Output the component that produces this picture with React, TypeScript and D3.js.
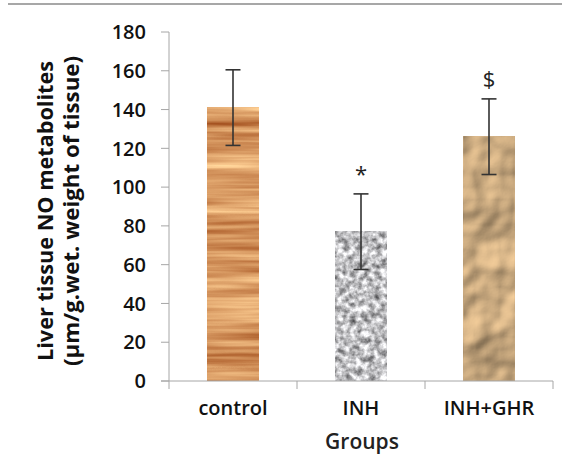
import { useEffect, useRef } from 'react';
import * as d3 from 'd3';

// values
const groups = ['control', 'INH', 'INH+GHR'];
const means = [141, 77, 126];
const errors = [19.5, 19.5, 19.5];
const marks = ['', '*', '$'];
const yTicks = [0, 20, 40, 60, 80, 100, 120, 140, 160, 180];
const textures = ['wood', 'granite', 'paper'];

const W = 562;
const H = 466;

export default function App() {
  const svgRef = useRef<SVGSVGElement | null>(null);

  useEffect(() => {
    if (!svgRef.current) return;
    const svg = d3.select(svgRef.current);
    svg.selectAll('*').remove();

    const font = '"Open Sans", "Noto Sans", sans-serif';
    const axisColor = '#a6a6a6';

    const x = d3.scaleBand().domain(groups).range([169, 553]).paddingInner(0).paddingOuter(0);
    const y = d3.scaleLinear().domain([0, 180]).range([381, 32]);
    const barW = x.bandwidth() * 0.4;

    // textures
    const defs = svg.append('defs');
    const mkFilter = (id: string) =>
      defs.append('filter').attr('id', id)
        .attr('filterUnits', 'objectBoundingBox')
        .attr('color-interpolation-filters', 'sRGB')
        .attr('x', 0).attr('y', 0).attr('width', 1).attr('height', 1);

    const wood = mkFilter('wood');
    wood.append('feTurbulence').attr('type', 'fractalNoise')
      .attr('baseFrequency', '0.006 0.14').attr('numOctaves', 3).attr('seed', 4);
    wood.append('feColorMatrix').attr('type', 'matrix')
      .attr('values', '0.5 0 0 0 0.58  0.7 0 0 0 0.23  0.65 0 0 0 0.04  0 0 0 0 1');

    const granite = mkFilter('granite');
    granite.append('feTurbulence').attr('type', 'fractalNoise')
      .attr('baseFrequency', '0.16').attr('numOctaves', 3).attr('seed', 7);
    granite.append('feColorMatrix').attr('type', 'matrix')
      .attr('values', '1.1 0 0 0 0.2  1.1 0 0 0 0.2  1.1 0 0 0 0.21  0 0 0 0 1');

    const paper = mkFilter('paper');
    paper.append('feTurbulence').attr('type', 'fractalNoise')
      .attr('baseFrequency', '0.02').attr('numOctaves', 3).attr('seed', 11).attr('result', 'n');
    const light = paper.append('feDiffuseLighting').attr('in', 'n')
      .attr('surfaceScale', 6).attr('diffuseConstant', 1.12)
      .attr('lighting-color', '#eac594').attr('result', 'lit');
    light.append('feDistantLight').attr('azimuth', 225).attr('elevation', 50);

    // top rule
    svg.append('line')
      .attr('x1', 8).attr('x2', W).attr('y1', 4).attr('y2', 4)
      .attr('stroke', '#8a8a8a').attr('stroke-width', 1.5);

    // y axis
    const yAxis = svg.append('g');
    yAxis.append('line')
      .attr('x1', 169).attr('x2', 169).attr('y1', y(180)).attr('y2', y(0))
      .attr('stroke', axisColor);
    yAxis.selectAll('.tick').data(yTicks).join('line')
      .attr('x1', 161).attr('x2', 169)
      .attr('y1', (d) => y(d)).attr('y2', (d) => y(d))
      .attr('stroke', axisColor);
    yAxis.selectAll('.lbl').data(yTicks).join('text')
      .attr('x', 146).attr('y', (d) => y(d))
      .attr('dy', '0.36em')
      .attr('text-anchor', 'end')
      .style('font-family', font).style('font-size', '20px').style('font-weight', 600)
      .attr('fill', '#111')
      .text((d) => d);

    // bars
    svg.selectAll('.bar').data(groups).join('rect')
      .attr('x', (d) => (x(d) as number) + x.bandwidth() / 2 - barW / 2)
      .attr('width', barW)
      .attr('y', (_, i) => y(means[i]))
      .attr('height', (_, i) => y(0) - y(means[i]))
      .attr('filter', (_, i) => `url(#${textures[i]})`);

    // x axis
    const xAxis = svg.append('g');
    xAxis.append('line')
      .attr('x1', 161).attr('x2', 553).attr('y1', y(0)).attr('y2', y(0))
      .attr('stroke', axisColor);
    const edges = [...groups.map((g) => x(g) as number), 553];
    xAxis.selectAll('.tick').data(edges).join('line')
      .attr('x1', (d) => d).attr('x2', (d) => d)
      .attr('y1', y(0)).attr('y2', y(0) + 8)
      .attr('stroke', axisColor);
    xAxis.selectAll('.lbl').data(groups).join('text')
      .attr('x', (d) => (x(d) as number) + x.bandwidth() / 2)
      .attr('y', 415)
      .attr('text-anchor', 'middle')
      .style('font-family', font).style('font-size', '20px').style('font-weight', 600)
      .attr('fill', '#111')
      .text((d) => d);

    // error bars
    const eb = svg.append('g').attr('stroke', '#333').attr('stroke-width', 1.6);
    groups.forEach((g, i) => {
      const cx = (x(g) as number) + x.bandwidth() / 2;
      const hi = y(means[i] + errors[i]);
      const lo = y(means[i] - errors[i]);
      eb.append('line').attr('x1', cx).attr('x2', cx).attr('y1', hi).attr('y2', lo);
      eb.append('line').attr('x1', cx - 7.5).attr('x2', cx + 7.5).attr('y1', hi).attr('y2', hi);
      eb.append('line').attr('x1', cx - 7.5).attr('x2', cx + 7.5).attr('y1', lo).attr('y2', lo);
    });

    // significance marks
    svg.selectAll('.mark').data(groups).join('text')
      .attr('x', (d) => (x(d) as number) + x.bandwidth() / 2)
      .attr('y', (_, i) => y(means[i] + errors[i]) - 12)
      .attr('text-anchor', 'middle')
      .style('font-family', font).style('font-size', '22px')
      .attr('fill', '#222')
      .text((_, i) => marks[i]);

    // axis titles
    svg.append('text')
      .attr('transform', 'translate(53,211) rotate(-90)')
      .attr('text-anchor', 'middle')
      .attr('textLength', 300).attr('lengthAdjust', 'spacingAndGlyphs')
      .style('font-family', font).style('font-size', '21px').style('font-weight', 'bold')
      .attr('fill', '#111')
      .text('Liver tissue NO metabolites');
    svg.append('text')
      .attr('transform', 'translate(79,211) rotate(-90)')
      .attr('text-anchor', 'middle')
      .attr('textLength', 310).attr('lengthAdjust', 'spacingAndGlyphs')
      .style('font-family', font).style('font-size', '21px').style('font-weight', 'bold')
      .attr('fill', '#111')
      .text('(µm/g.wet. weight of tissue)');
    svg.append('text')
      .attr('x', 362).attr('y', 449)
      .attr('text-anchor', 'middle')
      .style('font-family', font).style('font-size', '21px').style('font-weight', 600)
      .attr('fill', '#222')
      .text('Groups');
  }, []);

  return (
    <svg
      ref={svgRef}
      width={W}
      height={H}
      style={{ position: 'absolute', left: 0, top: 0, background: '#fff' }}
    />
  );
}
